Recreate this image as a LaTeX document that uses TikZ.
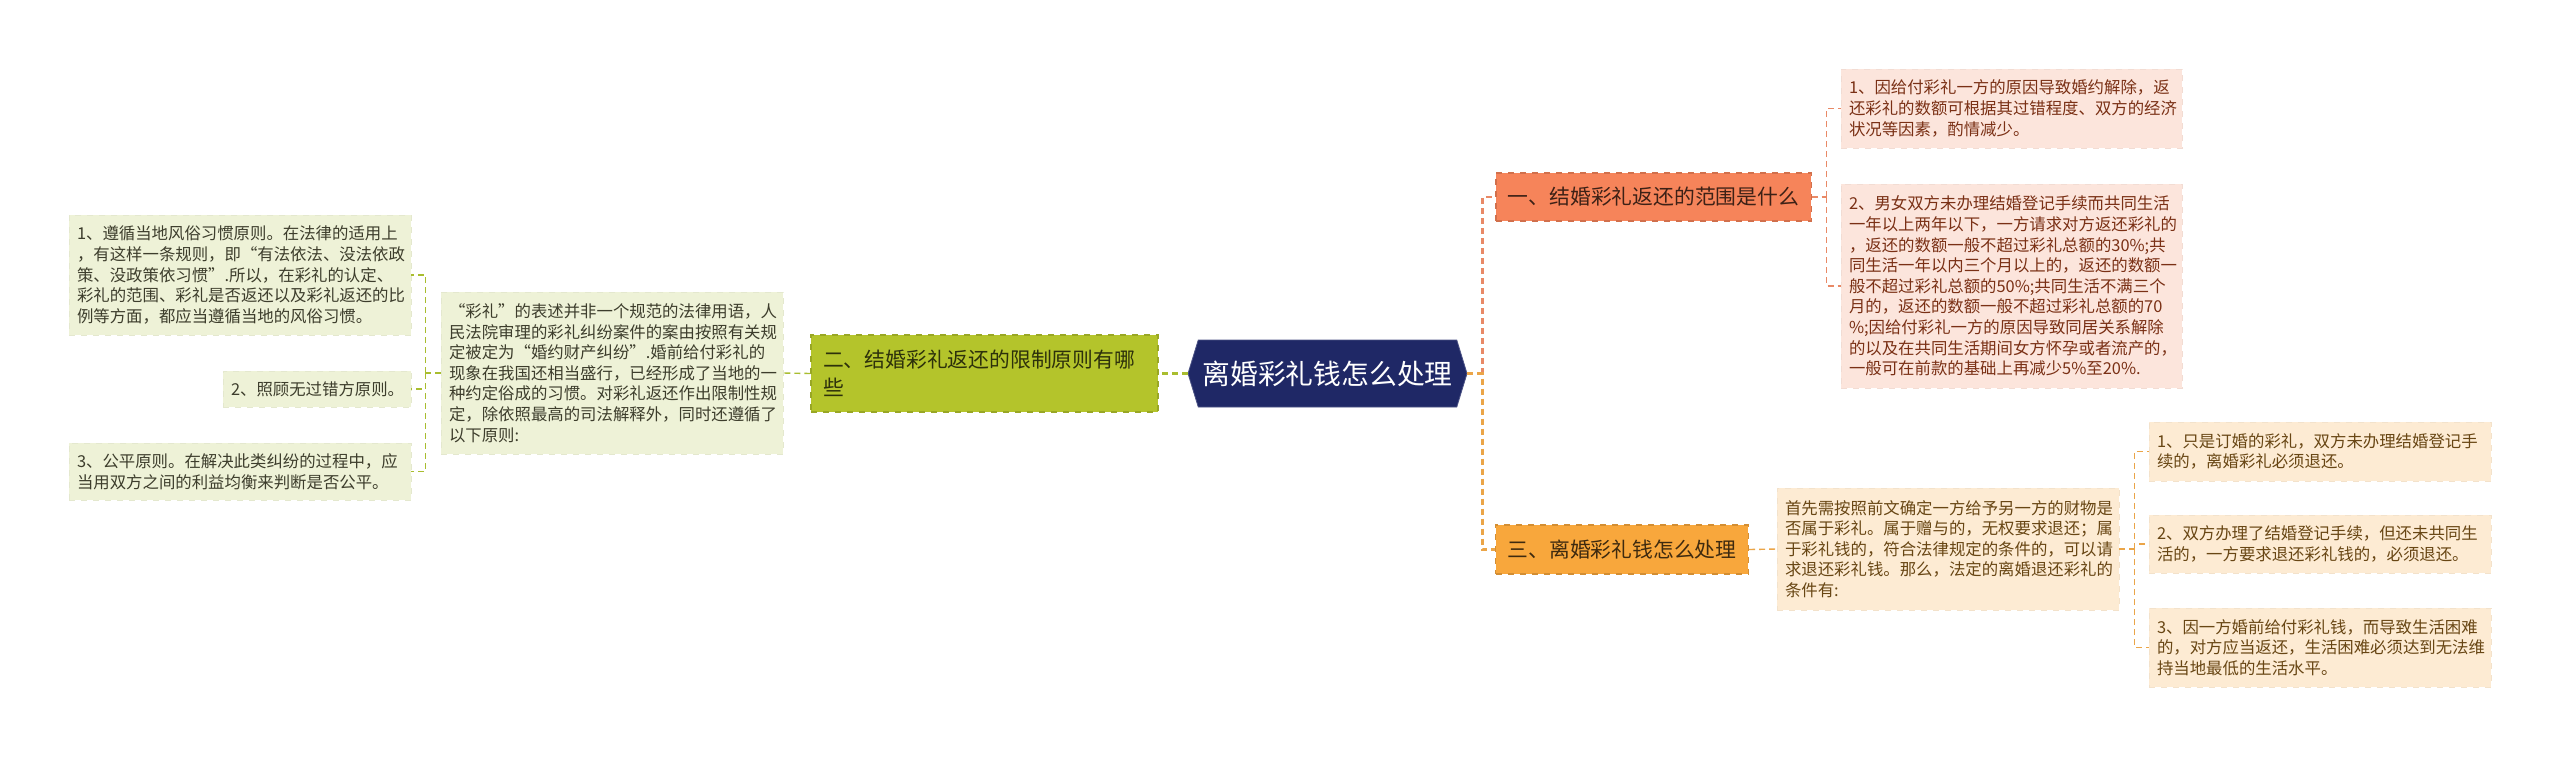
\documentclass[tikz,border=0pt]{standalone}
\usepackage{fontspec}
\setmainfont{Noto Sans CJK SC}
\usetikzlibrary{positioning,shapes.symbols}
\definecolor{mapnavy}{HTML}{1F2866}
\definecolor{mapcoral}{HTML}{F6845A}
\definecolor{mapolive}{HTML}{B4C42B}
\definecolor{mapamber}{HTML}{F8A73C}
\definecolor{coralleaf}{HTML}{FCE5DC}
\definecolor{oliveleaf}{HTML}{EEF2D7}
\definecolor{amberleaf}{HTML}{FDEBD3}
\definecolor{coraltext}{HTML}{7A3015}
\definecolor{olivetext}{HTML}{3D3D2C}
\definecolor{ambertext}{HTML}{684614}
\definecolor{coralline}{HTML}{E98966}
\definecolor{oliveline}{HTML}{A9BD2F}
\definecolor{amberline}{HTML}{EBA548}
\tikzset{
    root/.style={signal,signal to=east and west,signal pointer angle=146,fill=mapnavy,draw=mapnavy!80!white,text=white,minimum width=139.5pt,minimum height=33.5pt,inner sep=0pt,font=\fontsize{13.9pt}{16pt}\selectfont},
    topic/.style={fill=map#1,draw=map#1!85!black,dashed,line width=0.6pt,text=map#1!25!black,inner xsep=6pt,inner ysep=0pt,align=left,font=\fontsize{10.4pt}{14pt}\selectfont},
    leaf/.style={fill=#1leaf,draw=#1leaf!96!black,dashed,line width=0.4pt,text=#1text,inner xsep=4pt,inner ysep=0pt,align=left,font=\fontsize{8.2pt}{10.3pt}\selectfont},
    mainlink/.style={draw=#1line,line width=1.3pt,dash pattern=on 3pt off 2pt},
    sublink/.style={draw=#1line,line width=0.7pt,dash pattern=on 3pt off 2pt}
}
\begin{document}
\begin{tikzpicture}[x=0.5pt,y=-0.5pt]
\useasboundingbox (0,0) rectangle (2560,757);
\node[root] (root) at (1327.5,373.5) {离婚彩礼钱怎么处理};

\node[topic=coral,minimum width=156.5pt,minimum height=24pt] (b1) at (1653.5,197) {一、结婚彩礼返还的范围是什么};
\node[topic=olive,text width=161.5pt,minimum height=38.5pt] (b2) at (984.5,373.5) {二、结婚彩礼返还的限制原则有哪\\些};
\node[topic=amber,minimum width=125pt,minimum height=24.5pt] (b3) at (1622,549.5) {三、离婚彩礼钱怎么处理};

\node[leaf=coral,text width=162.5pt,minimum height=39.5pt] (l11) at (2011.5,108.5) {1、因给付彩礼一方的原因导致婚约解除，返\\还彩礼的数额可根据其过错程度、双方的经济\\状况等因素，酌情减少。};
\node[leaf=coral,text width=162.5pt,minimum height=102pt] (l12) at (2011.5,286) {2、男女双方未办理结婚登记手续而共同生活\\一年以上两年以下，一方请求对方返还彩礼的\\，返还的数额一般不超过彩礼总额的30\%;共\\同生活一年以内三个月以上的，返还的数额一\\般不超过彩礼总额的50\%;共同生活不满三个\\月的，返还的数额一般不超过彩礼总额的70\\\%;因给付彩礼一方的原因导致同居关系解除\\的以及在共同生活期间女方怀孕或者流产的，\\一般可在前款的基础上再减少5\%至20\%.};

\node[leaf=olive,text width=163pt,minimum height=81pt] (l2) at (612,373) {“彩礼”的表述并非一个规范的法律用语，人\\民法院审理的彩礼纠纷案件的案由按照有关规\\定被定为“婚约财产纠纷”.婚前给付彩礼的\\现象在我国还相当盛行，已经形成了当地的一\\种约定俗成的习惯。对彩礼返还作出限制性规\\定，除依照最高的司法解释外，同时还遵循了\\以下原则:};
\node[leaf=olive,text width=163pt,minimum height=60pt] (l21) at (240,275) {1、遵循当地风俗习惯原则。在法律的适用上\\，有这样一条规则，即“有法依法、没法依政\\策、没政策依习惯”.所以，在彩礼的认定、\\彩礼的范围、彩礼是否返还以及彩礼返还的比\\例等方面，都应当遵循当地的风俗习惯。};
\node[leaf=olive,text width=86pt,minimum height=18pt] (l22) at (317,389) {2、照顾无过错方原则。};
\node[leaf=olive,text width=163pt,minimum height=28.5pt] (l23) at (240,471.5) {3、公平原则。在解决此类纠纷的过程中，应\\当用双方之间的利益均衡来判断是否公平。};

\node[leaf=amber,text width=163pt,minimum height=61pt] (l3) at (1948,549) {首先需按照前文确定一方给予另一方的财物是\\否属于彩礼。属于赠与的，无权要求退还；属\\于彩礼钱的，符合法律规定的条件的，可以请\\求退还彩礼钱。那么，法定的离婚退还彩礼的\\条件有:};
\node[leaf=amber,text width=163pt,minimum height=29.5pt] (l31) at (2320,451.5) {1、只是订婚的彩礼，双方未办理结婚登记手\\续的，离婚彩礼必须退还。};
\node[leaf=amber,text width=163pt,minimum height=29pt] (l32) at (2320,544) {2、双方办理了结婚登记手续，但还未共同生\\活的，一方要求退还彩礼钱的，必须退还。};
\node[leaf=amber,text width=163pt,minimum height=39.5pt] (l33) at (2320,647.5) {3、因一方婚前给付彩礼钱，而导致生活困难\\的，对方应当返还，生活困难必须达到无法维\\持当地最低的生活水平。};

\coordinate (rjoint) at ([xshift=7.5pt]root.east);
\coordinate (cjoint) at ([xshift=7.5pt]b1.east);
\coordinate (ojoint) at ([xshift=-7.5pt]l2.west);
\coordinate (ajoint) at ([xshift=7.5pt]l3.east);

\draw[mainlink=coral] (rjoint) |- (b1.west);
\draw[mainlink=amber] (root.east) -- (rjoint) |- (b3.west);
\draw[mainlink=olive] (root.west) -- (b2.east);

\draw[sublink=coral] (b1.east) -- (cjoint);
\draw[sublink=coral] (cjoint) |- (l11.west);
\draw[sublink=coral] (cjoint) |- (l12.west);

\draw[sublink=olive] (b2.west) -- (l2.east);
\draw[sublink=olive] (l2.west) -- (ojoint);
\draw[sublink=olive] (ojoint) |- (l21.east);
\draw[sublink=olive] (ojoint) |- (l22.east);
\draw[sublink=olive] (ojoint) |- (l23.east);

\draw[sublink=amber] (b3.east) -- (l3.west);
\draw[sublink=amber] (l3.east) -- (ajoint);
\draw[sublink=amber] (ajoint) |- (l31.west);
\draw[sublink=amber] (ajoint) |- (l32.west);
\draw[sublink=amber] (ajoint) |- (l33.west);
\end{tikzpicture}
\end{document}
